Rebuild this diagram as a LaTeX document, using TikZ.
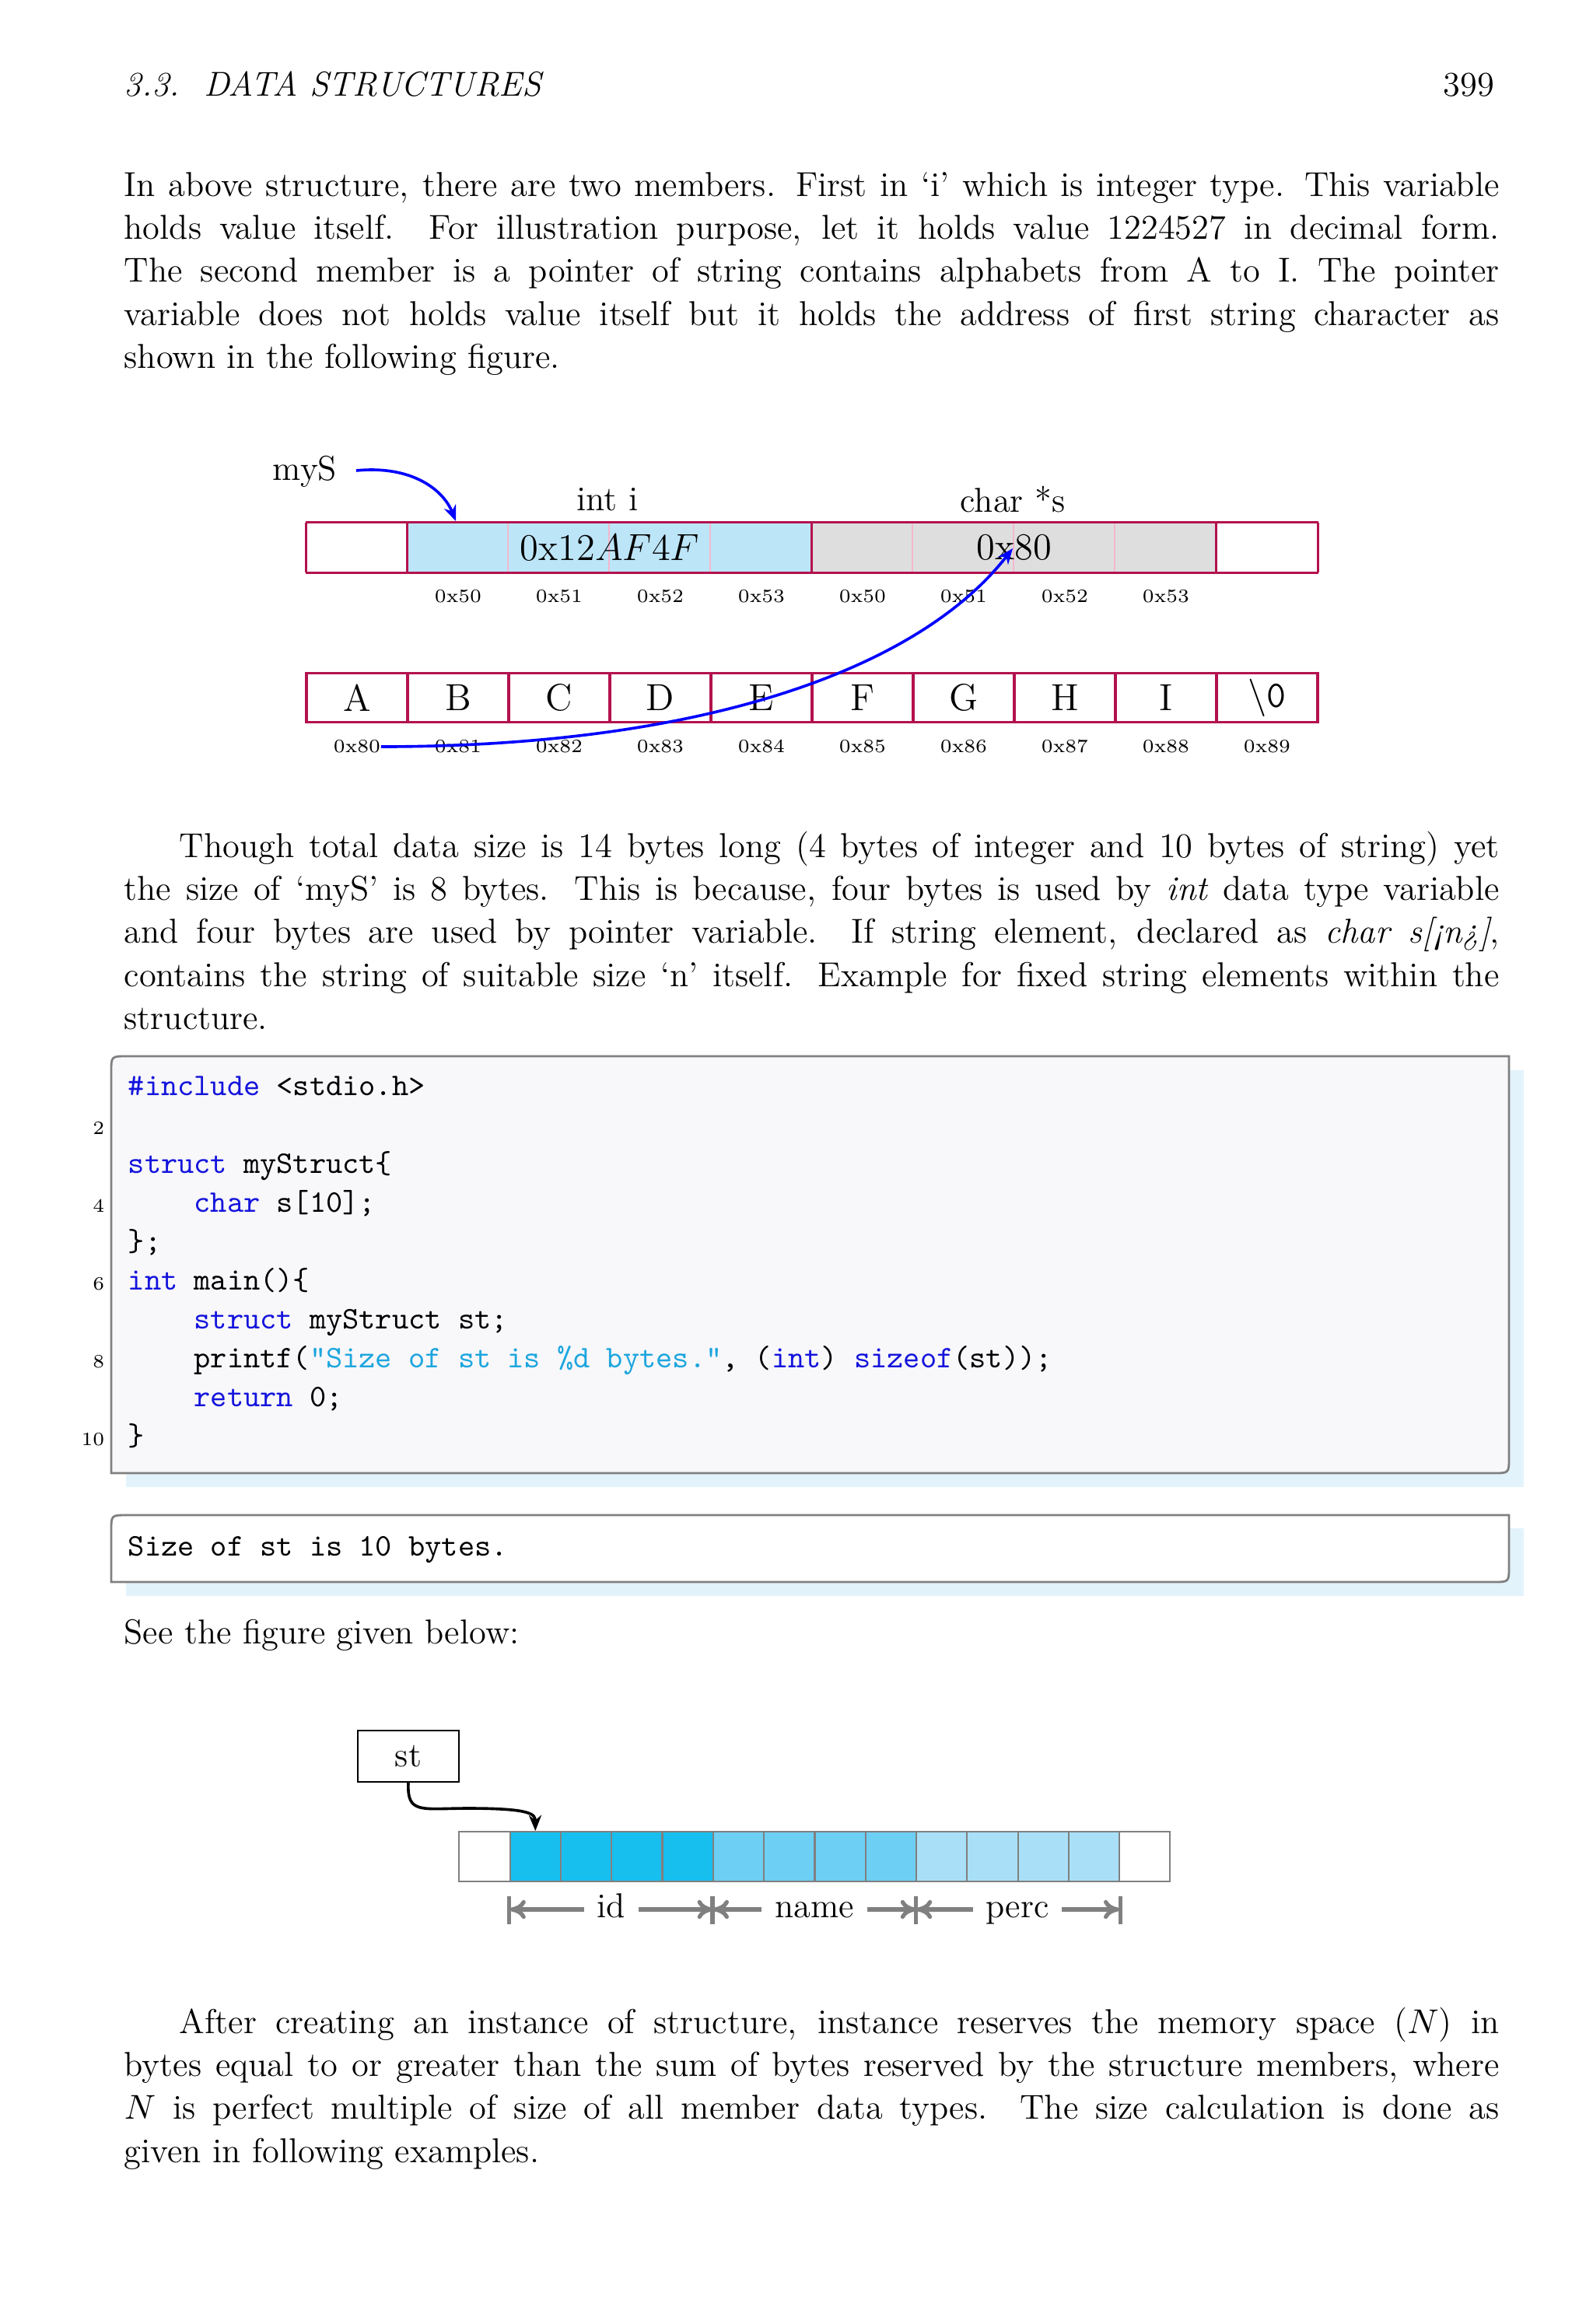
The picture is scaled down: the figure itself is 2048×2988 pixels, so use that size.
\documentclass[tikz,border=0pt]{standalone}
\usepackage{fontspec}
\usetikzlibrary{arrows.meta}
\definecolor{crim}{HTML}{B3124E}
\definecolor{pinkl}{HTML}{F2B8CC}
\definecolor{lblue}{HTML}{BDE5F8}
\definecolor{lgray}{HTML}{DEDEDF}
\definecolor{kw}{HTML}{1414DC}
\definecolor{str}{HTML}{1CA6DE}
\definecolor{codebg}{HTML}{F8F7FA}
\definecolor{shad}{HTML}{E3F3FC}
\definecolor{c1}{HTML}{17BFEF}
\definecolor{c2}{HTML}{6DCFF4}
\definecolor{c3}{HTML}{A9E0F7}
\definecolor{dimg}{HTML}{808080}
\newcommand\kwd[1]{\textcolor{kw}{#1}}
\newcommand\strg[1]{\textcolor{str}{#1}}
\begin{document}
\begin{tikzpicture}[x=0.2475pt,y=-0.2475pt,
  txt/.style={anchor=base west,inner sep=0pt,text width=437.5pt,align=justify,font=\fontsize{11}{13.7}\selectfont},
  cellA/.style={inner sep=0pt,minimum width=130*0.2475pt,minimum height=63*0.2475pt},
  cellB/.style={inner sep=0pt,minimum width=65.1*0.2475pt,minimum height=64*0.2475pt,draw=dimg,line width=0.5pt},
  addr/.style={inner sep=0pt,font=\fontsize{6}{7}\selectfont},
  big/.style={inner sep=0pt,font=\fontsize{12}{14}\selectfont},
  code/.style={anchor=base west,inner sep=0pt,font=\fontsize{10}{12}\ttfamily\addfontfeatures{LetterSpace=19}},
  lnum/.style={anchor=base east,inner sep=0pt,font=\fontsize{6}{7}\selectfont},
  dim/.style={draw=dimg,line width=1.3pt,-{To[length=5pt,width=6pt]}}]
\useasboundingbox (0,0) rectangle (2048,2988);
% header
\node[anchor=base west,inner sep=0pt,font=\fontsize{11}{13.6}\itshape] (hd) at (159,123) {3.3.\ \ DATA STRUCTURES};
\node[anchor=base east,inner sep=0pt,font=\fontsize{11}{13.6}\selectfont] (pg) at (1922,123) {399};
% paragraph 1
\node[txt] (p1) at (159,252) {In above structure, there are two members. First in ‘i’ which is integer type. This variable\linebreak
holds value itself. For illustration purpose, let it holds value 1224527 in decimal form.\linebreak
The second member is a pointer of string contains alphabets from A to I. The pointer\linebreak
variable does not holds value itself but it holds the address of first string character as\linebreak
shown in the following figure.};
% top diagram row 1
\foreach \i/\c in {0/white,1/lblue,2/lblue,3/lblue,4/lblue,5/lgray,6/lgray,7/lgray,8/lgray,9/white}{
  \node[cellA,fill=\c] (a\i) at (459+130*\i,704) {};
}
\foreach \i in {2,3,4,6,7,8}{\draw[pinkl,line width=0.6pt] (a\i.north west) -- (a\i.south west);}
\draw[crim,line width=0.8pt] (a0.north west) -- (a9.north east) (a0.south west) -- (a9.south east);
\foreach \i in {0,1,5,9}{\draw[crim,line width=0.8pt] (a\i.north west) -- (a\i.south west);}
\draw[crim,line width=0.8pt] (a9.north east) -- (a9.south east);
\node[inner sep=0pt,font=\fontsize{12}{14}\selectfont] (vi) at (784,704) {0x12$AF4F$};
\node[inner sep=0pt,font=\fontsize{12}{14}\selectfont] (vs) at (1304,704) {0x80};
\node[inner sep=0pt,font=\fontsize{11}{13.6}\selectfont] (li) at (781,642) {int i};
\node[inner sep=0pt,font=\fontsize{11}{13.6}\selectfont] (ls) at (1302,642) {char *s};
\node[inner sep=0pt,font=\fontsize{11}{13.6}\selectfont] (mys) at (392,606) {myS};
\foreach \i/\t in {1/50,2/51,3/52,4/53,5/50,6/51,7/52,8/53}{
  \node[addr] (ta\i) at (459+130*\i,767) {0x\t};
}
% row 2
\foreach \i/\t in {0/A,1/B,2/C,3/D,4/E,5/F,6/G,7/H,8/I}{
  \node[cellA,draw=crim,line width=0.8pt] (b\i) at (459+130*\i,897) {};
  \node[big] (bt\i) at (b\i) {\t};
  \node[addr] (tb\i) at (459+130*\i,960) {0x8\i};
}
\node[cellA,draw=crim,line width=0.8pt] (b9) at (459+130*9,897) {};
\node[big] (bt9) at (b9) {\textbackslash\texttt{0}};
\node[addr] (tb9) at (459+130*9,960) {0x89};
% arrows
\coordinate (ms0) at (458,605);
\draw[blue,line width=0.9pt,-{Stealth[length=5pt,width=4pt]}] (ms0) .. controls (530,598) and (570,630) .. (586,670);
\draw[blue,line width=0.9pt,-{Stealth[length=5pt,width=4pt]}] (tb0.east) .. controls (900,960) and (1180,862) .. (1302,705);
% paragraph 2
\node[txt] (p2) at (159,1102) {\hspace*{17.6pt}Though total data size is 14 bytes long (4 bytes of integer and 10 bytes of string) yet\linebreak
the size of ‘myS’ is 8 bytes. This is because, four bytes is used by \textit{int} data type variable\linebreak
and four bytes are used by pointer variable. If string element, declared as \textit{char s[¡n¿]},\linebreak
contains the string of suitable size ‘n’ itself. Example for fixed string elements within the\linebreak
structure.};
% code box
\fill[shad] (162,1376) rectangle (1959,1912);
\draw[dimg,line width=0.7pt,fill=codebg] (143,1378) .. controls (143,1358) .. (163,1358) -- (1940,1358) -- (1940,1874) .. controls (1940,1894) .. (1920,1894) -- (143,1894) -- cycle;
\node[code] (k1) at (164,1408) {\kwd{\#include}\ <stdio.h>};
\node[code] (k3) at (164,1508) {\kwd{struct}\ myStruct\{};
\node[code] (k4) at (164,1558) {\ \ \ \ \kwd{char}\ s[10];};
\node[code] (k5) at (164,1608) {\};};
\node[code] (k6) at (164,1658) {\kwd{int}\ main()\{};
\node[code] (k7) at (164,1708) {\ \ \ \ \kwd{struct}\ myStruct\ st;};
\node[code] (k8) at (164,1758) {\ \ \ \ printf(\strg{\textquotedbl Size\ of\ st\ is\ \%d\ bytes.\textquotedbl},\ (\kwd{int})\ \kwd{sizeof}(st));};
\node[code] (k9) at (164,1808) {\ \ \ \ \kwd{return}\ 0;};
\node[code] (k10) at (164,1858) {\}};
\foreach \n/\y in {2/1458,4/1558,6/1658,8/1758,10/1858}{\node[lnum] (n\n) at (135,\y) {\n};}
% output box
\fill[shad] (162,1965) rectangle (1959,2052);
\draw[dimg,line width=0.7pt,fill=white] (143,1968) .. controls (143,1948) .. (163,1948) -- (1940,1948) -- (1940,2014) .. controls (1940,2034) .. (1920,2034) -- (143,2034) -- cycle;
\node[code] (out) at (164,2000) {Size\ of\ st\ is\ 10\ bytes.};
\node[anchor=base west,inner sep=0pt,font=\fontsize{11}{13.6}\selectfont] (see) at (159,2113) {See the figure given below:};
% bottom diagram
\node[draw,line width=0.6pt,inner sep=0pt,minimum width=130*0.2475pt,minimum height=66*0.2475pt,font=\fontsize{11}{13.6}\selectfont] (st) at (525,2258) {st};
\foreach \i/\c in {0/white,1/c1,2/c1,3/c1,4/c1,5/c2,6/c2,7/c2,8/c2,9/c3,10/c3,11/c3,12/c3,13/white}{
  \node[cellB,fill=\c] (m\i) at (623+65.3*\i,2387) {};
}
\draw[line width=0.9pt,-{Stealth[length=5pt,width=4pt]}] (st.south) .. controls (523,2333) and (542,2325) .. (602,2325) .. controls (686,2325) and (688,2333) .. (m1.north);
\foreach \k in {1,5,9}{\draw[dimg,line width=1.3pt] (m\k.south west)++(0,18) -- ++(0,36);}
\draw[dimg,line width=1.3pt] (m12.south east)++(0,18) -- ++(0,36);
\node[inner sep=2pt,font=\fontsize{11}{13.6}\selectfont,anchor=base] (did) at (786,2465) {id};
\node[inner sep=2pt,font=\fontsize{11}{13.6}\selectfont,anchor=base] (dname) at (1047,2465) {name};
\node[inner sep=2pt,font=\fontsize{11}{13.6}\selectfont,anchor=base] (dperc) at (1308,2465) {perc};
\coordinate (q1) at (655.6,2455); \coordinate (q5) at (916.8,2455); \coordinate (q9) at (1178,2455); \coordinate (q13) at (1439.2,2455);
\draw[dim] (did.west|-q1) ++(-8,0) coordinate (e1) (e1) -- (q1);
\draw[dim] (did.east|-q1) ++(8,0) coordinate (e2) (e2) -- (q5);
\draw[dim] (dname.west|-q1) ++(-8,0) coordinate (e3) (e3) -- (q5);
\draw[dim] (dname.east|-q1) ++(8,0) coordinate (e4) (e4) -- (q9);
\draw[dim] (dperc.west|-q1) ++(-8,0) coordinate (e5) (e5) -- (q9);
\draw[dim] (dperc.east|-q1) ++(8,0) coordinate (e6) (e6) -- (q13);
% paragraph 3
\node[txt] (p3) at (159,2614) {\hspace*{17.6pt}After creating an instance of structure, instance reserves the memory space ($N$) in\linebreak
bytes equal to or greater than the sum of bytes reserved by the structure members, where\linebreak
$N$ is perfect multiple of size of all member data types. The size calculation is done as\linebreak
given in following examples.};
\end{tikzpicture}
\end{document}
